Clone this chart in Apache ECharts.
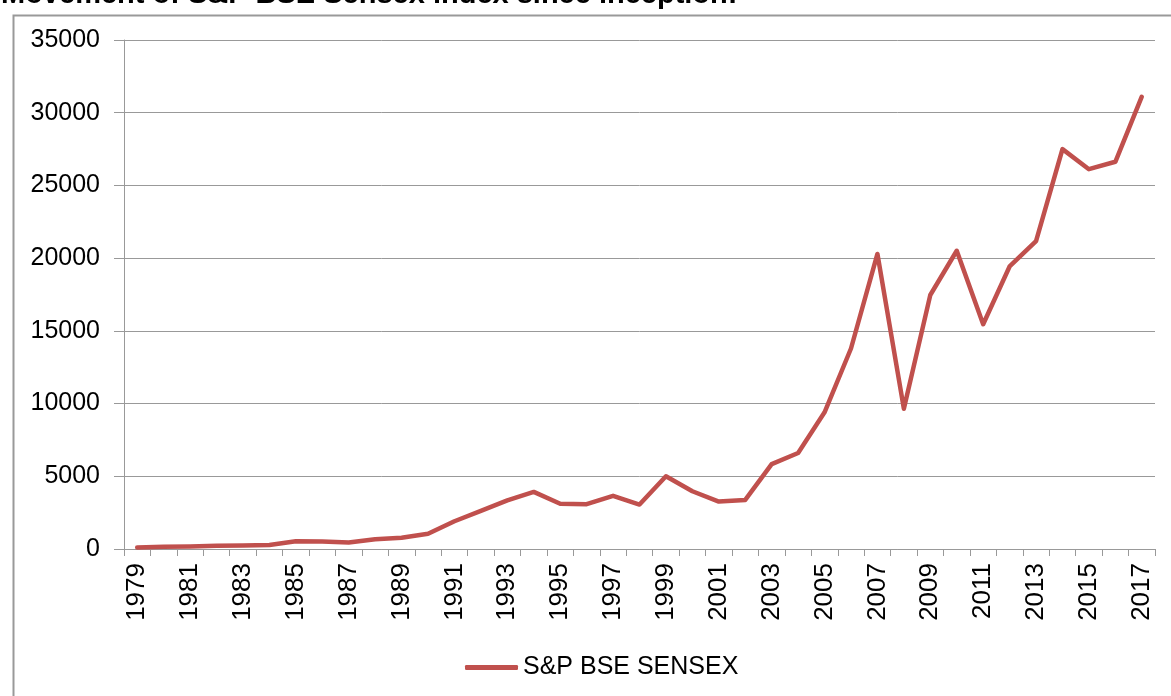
<!DOCTYPE html>
<html>
<head>
<meta charset="utf-8">
<style>html,body{margin:0;padding:0;background:#fff}#c{width:1171px;height:696px}</style>
<script src="https://cdn.jsdelivr.net/npm/echarts@6/dist/echarts.min.js"></script>
</head>
<body>
<div id="c"></div>
<script>
const titleText = "Movement of S&P BSE Sensex index since inception:";
const seriesName = "S&P BSE SENSEX";
const years = ["1979","1980","1981","1982","1983","1984","1985","1986","1987","1988","1989","1990","1991","1992","1993","1994","1995","1996","1997","1998","1999","2000","2001","2002","2003","2004","2005","2006","2007","2008","2009","2010","2011","2012","2013","2014","2015","2016","2017"];
const sensex = [100,148,173,218,245,276,527,524,442,666,778,1048,1908,2615,3346,3926,3110,3085,3659,3055,5005,3972,3262,3377,5839,6603,9398,13787,20287,9647,17465,20509,15455,19427,21171,27499,26118,26626,31100];
const yMin = 0, yMax = 35000, yStep = 5000;

const chart = echarts.init(document.getElementById('c'), null, {renderer:'canvas'});
const font = '"Liberation Sans", Arial, sans-serif';
chart.setOption({
  animation: false,
  backgroundColor: '#ffffff',
  textStyle: {fontFamily: font},
  title: {
    text: titleText, left: 1, top: -20, padding: 0,
    textStyle: {fontFamily: font, fontWeight: 'bold', fontSize: 29, color: '#000'}
  },
  graphic: [{
    type: 'rect', left: 11, top: 13, z: -1,
    shape: {width: 1200, height: 720},
    style: {fill: 'none', stroke: '#999', lineWidth: 2}
  }],
  grid: {left: 124, right: 16, top: 40, bottom: 147, containLabel: false},
  legend: {
    data: [seriesName], left: 460, top: 650, orient: 'horizontal',
    icon: 'roundRect',
    itemWidth: 53, itemHeight: 5, itemGap: 6,
    textStyle: {fontFamily: font, fontSize: 25, color: '#000', padding: [0,0,0,0]}
  },
  xAxis: {
    type: 'category', data: years, boundaryGap: true,
    axisLine: {lineStyle: {color: '#999', width: 1}},
    axisTick: {show: true, interval: 0, length: 7, lineStyle: {color: '#999'}},
    axisLabel: {interval: 1, rotate: 90, fontSize: 26, color: '#000', fontFamily: font, margin: 14}
  },
  yAxis: {
    type: 'value', min: yMin, max: yMax, interval: yStep,
    axisLine: {show: true, lineStyle: {color: '#999', width: 1}},
    axisTick: {show: true, length: 10, lineStyle: {color: '#999'}},
    splitLine: {lineStyle: {color: '#999', width: 1}},
    axisLabel: {fontSize: 25, color: '#000', fontFamily: font, margin: 24,
      formatter: function (v) { return String(v); }}
  },
  series: [{
    name: seriesName, type: 'line', data: sensex,
    symbol: 'none', smooth: false,
    lineStyle: {color: '#C0504D', width: 4.5, join: 'round', cap: 'round'},
    itemStyle: {color: '#C0504D'}
  }]
});
</script>
</body>
</html>
